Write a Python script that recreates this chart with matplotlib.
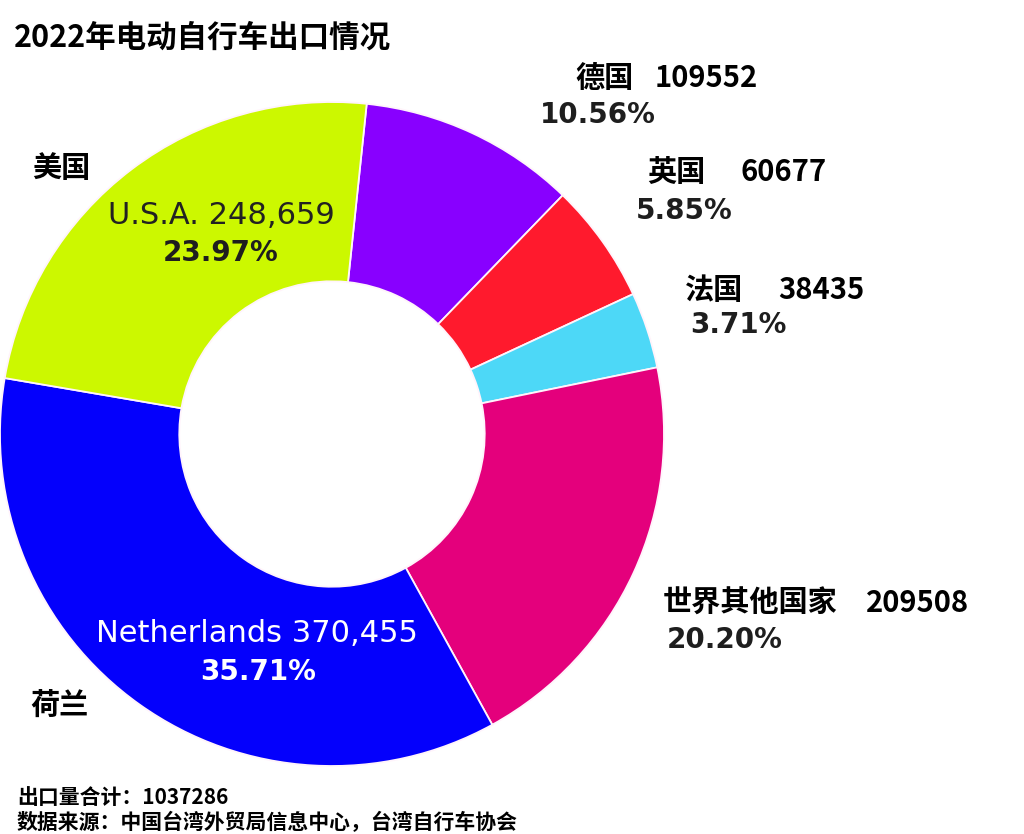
import matplotlib
matplotlib.use("Agg")
import matplotlib.pyplot as plt

# data
countries_cn = ['德国', '英国', '法国', '世界其他国家', '荷兰', '美国']
exports = [109552, 60677, 38435, 209508, 370455, 248659]
shares = [10.56, 5.85, 3.71, 20.20, 35.71, 23.97]
colors = ['#8800ff', '#ff1a2d', '#4dd8f7', '#e4007c', '#0400fc', '#ccf800']
total = 1037286
title = '2022年电动自行车出口情况'
source = '数据来源：中国台湾外贸局信息中心，台湾自行车协会'

W, H = 1024, 834
cjk = ['Noto Sans CJK SC', 'DejaVu Sans']
latin = ['DejaVu Sans']


def fx(x):
    return x / W


def fy(y):
    return 1 - y / H


fig = plt.figure(figsize=(W / 100, H / 100), dpi=100)
fig.patch.set_facecolor('white')

# donut: centre (332, 434) px, outer radius 332 px
ax = fig.add_axes([fx(0), fy(766), 664 / W, 664 / H])
ax.pie(exports, colors=colors, startangle=84, counterclock=False,
       radius=1.0, wedgeprops=dict(width=0.54, edgecolor='#fff4fb', linewidth=1.3))
ax.set_xlim(-1, 1)
ax.set_ylim(-1, 1)
ax.set_aspect('equal')
ax.axis('off')

# title
fig.text(fx(14), fy(38), title, family=cjk, fontsize=22, fontweight='bold',
         ha='left', va='center', color='black')

# english labels inside the wedges
fig.text(fx(221), fy(216), 'U.S.A. 248,659', family=latin, fontweight='normal',
         fontsize=22, ha='center', va='center', color='#222222')
fig.text(fx(221), fy(253), f'{shares[5]:.2f}%', family=latin, fontweight='bold',
         fontsize=20, ha='center', va='center', color='#1e1e1e')
fig.text(fx(257), fy(633), 'Netherlands 370,455', family=latin, fontweight='normal',
         fontsize=22, ha='center', va='center', color='white')
fig.text(fx(258), fy(672), f'{shares[4]:.2f}%', family=latin, fontweight='bold',
         fontsize=20, ha='center', va='center', color='white')

# chinese labels
fig.text(fx(32), fy(168), countries_cn[5], family=cjk, fontsize=21,
         fontweight='bold', ha='left', va='center')
fig.text(fx(30), fy(705), countries_cn[4], family=cjk, fontsize=21,
         fontweight='bold', ha='left', va='center')

# outside labels: name x, number x, row y, percent x, percent y
outside = [(0, 575, 655, 78, 540, 115),
           (1, 647, 741, 172, 636, 211),
           (2, 685, 778, 290, 690, 325),
           (3, 663, 866, 603, 667, 640)]
for i, xn, xv, yr, xp, yp in outside:
    fig.text(fx(xn), fy(yr), countries_cn[i], family=cjk, fontsize=21,
             fontweight='bold', ha='left', va='center')
    fig.text(fx(xv), fy(yr), str(exports[i]), family=cjk, fontsize=21,
             fontweight='bold', ha='left', va='center')
    fig.text(fx(xp), fy(yp), f'{shares[i]:.2f}%', family=latin, fontweight='bold',
             fontsize=20, ha='left', va='center', color='#1e1e1e')

# footer
fig.text(fx(17), fy(797), f'出口量合计：{total}', family=cjk, fontsize=15,
         fontweight='bold', ha='left', va='center')
fig.text(fx(17), fy(822), source, family=cjk, fontsize=15,
         fontweight='bold', ha='left', va='center')

fig.savefig('out.png', dpi=100, facecolor='white')
